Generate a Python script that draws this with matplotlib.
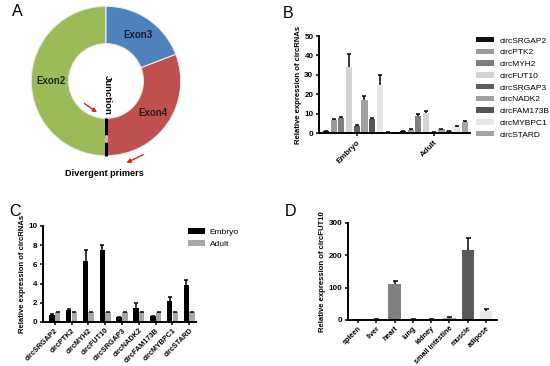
import matplotlib
matplotlib.use("Agg")
import matplotlib.pyplot as plt
import numpy as np

plt.rcParams['font.family'] = ['Liberation Sans', 'DejaVu Sans']

W, H = 550, 366

# ---------------- data ----------------
exon_labels = ["Exon2", "Exon4", "Exon3"]
exon_sizes = [180, 111, 69]
exon_colors = ["#9bbb59", "#c0504d", "#4f81bd"]

circ_names = ["circSRGAP2", "circPTK2", "circMYH2", "circFUT10", "circSRGAP3",
              "circNADK2", "circFAM173B", "circMYBPC1", "circSTARD"]
b_groups = ["Embryo", "Adult"]
b_embryo = [1.0, 6.5, 7.5, 34.0, 3.5, 16.8, 7.2, 24.5, 0.3]
b_embryo_err = [0.2, 0.5, 0.5, 6.5, 0.4, 2.5, 0.5, 5.2, 0.1]
b_adult = [1.0, 1.8, 8.8, 10.2, 0.5, 2.0, 0.8, 3.0, 5.5]
b_adult_err = [0.2, 0.5, 1.0, 1.0, 0.2, 0.3, 0.2, 0.5, 0.6]
b_colors = ["#111111", "#9a9a9a", "#7e7e7e", "#d4d4d4", "#5e5e5e",
            "#a0a0a0", "#555555", "#e6e6e6", "#a5a5a5"]

c_embryo = [0.75, 1.2, 6.35, 7.45, 0.48, 1.45, 0.58, 2.2, 3.9]
c_embryo_err = [0.08, 0.15, 1.2, 0.6, 0.05, 0.5, 0.05, 0.4, 0.5]
c_adult = [1.0] * 9
c_adult_err = [0.08] * 9

tissues = ["spleen", "liver", "heart", "lung", "kidney", "small intestine", "muscle", "adipose"]
d_vals = [1.0, 1.5, 110, 1.5, 1.5, 6.0, 218, 28]
d_err = [0.5, 0.5, 12, 0.5, 0.5, 2.0, 37, 7]
d_colors = ["#111111", "#9a9a9a", "#808080", "#d4d4d4", "#5e5e5e", "#a0a0a0", "#5a5a5a", "#e8e8e8"]

fig = plt.figure(figsize=(W / 100, H / 100), dpi=100)
fig.patch.set_facecolor("white")


def ax_px(left, top, right, bottom):
    return fig.add_axes([left / W, 1 - bottom / H, (right - left) / W, (bottom - top) / H])


def fpx(x, y):
    return (x / W, 1 - y / H)


def style(ax, fs=5.8, xfs=None):
    for s in ["top", "right"]:
        ax.spines[s].set_visible(False)
    for s in ["left", "bottom"]:
        ax.spines[s].set_linewidth(1.4)
    ax.tick_params(axis="both", length=2.5, width=1.1, labelsize=fs, pad=1.5)
    if xfs is not None:
        ax.tick_params(axis="x", labelsize=xfs, pad=1.0)
    for lab in ax.get_yticklabels() + ax.get_xticklabels():
        lab.set_fontweight("bold")


def errbars(ax, x, y, e, cap=1.8):
    eb = ax.errorbar(x, y, yerr=[np.zeros(len(e)), e], fmt="none", ecolor="black",
                     elinewidth=1.1, capsize=cap, capthick=1.1)
    eb[1][0].set_visible(False)


# ---------------- panel A ----------------
axA = ax_px(26, 1, 186, 161)
axA.pie(exon_sizes, colors=exon_colors, startangle=90, counterclock=True,
        radius=1.0, wedgeprops=dict(width=0.5, edgecolor="#ececec", linewidth=0.8))
axA.set_xlim(-1.07, 1.07)
axA.set_ylim(-1.07, 1.07)
axA.set_aspect("equal")
axA.axis("off")
axA.plot([0, 0], [-0.49, -0.72], color="black", lw=2.2, solid_capstyle="butt")
axA.plot([0, 0], [-0.81, -1.0], color="black", lw=2.2, solid_capstyle="butt")
axA.plot([0, 0], [-0.72, -0.81], color="#e8b0a0", lw=2.2, solid_capstyle="butt")
axA.text(0.43, 0.61, "Exon3", ha="center", va="center", fontsize=7, fontweight="bold", color="#1a1a2a")
axA.text(-0.73, 0.0, "Exon2", ha="center", va="center", fontsize=7, fontweight="bold", color="#1a2a1a")
axA.text(0.63, -0.43, "Exon4", ha="center", va="center", fontsize=7, fontweight="bold", color="#2a1a1a")
axA.text(0.02, -0.19, "Junction", ha="center", va="center", rotation=270, fontsize=6.8, fontweight="bold")
axA.annotate("", xy=(-0.09, -0.44), xytext=(-0.32, -0.28), annotation_clip=False,
             arrowprops=dict(arrowstyle="-|>", color="#e02020", lw=1.0, mutation_scale=6))
axA.annotate("", xy=(0.24, -1.11), xytext=(0.53, -0.97), annotation_clip=False,
             arrowprops=dict(arrowstyle="-|>", color="#e02020", lw=1.0, mutation_scale=6))
fig.text(*fpx(104, 173), "Divergent primers", ha="center", va="center", fontsize=6.6, fontweight="bold")
fig.text(*fpx(17, 12), "A", ha="center", va="center", fontsize=11.5)

# ---------------- panel B ----------------
axB = ax_px(319, 36, 470, 133)
gx = np.arange(len(b_groups))
slot = 0.1
for i, name in enumerate(circ_names):
    xs = gx + (i - 4) * slot
    vals = [b_embryo[i], b_adult[i]]
    errs = [b_embryo_err[i], b_adult_err[i]]
    axB.bar(xs, vals, width=0.08, color=b_colors[i], label=name)
    errbars(axB, xs, vals, errs, cap=1.2)
axB.set_ylim(0, 50)
axB.set_yticks([0, 10, 20, 30, 40, 50])
axB.set_xlim(-0.49, 1.47)
axB.set_xticks(gx)
axB.set_xticklabels(b_groups, rotation=45, ha="right", rotation_mode="anchor")
axB.set_ylabel("Relative expression of circRNAs", fontsize=5.6, fontweight="bold", labelpad=2)
style(axB)
axB.legend(loc="upper left", bbox_to_anchor=(476 / W, 1 - 37 / H), bbox_transform=fig.transFigure,
           frameon=False, fontsize=6.0, handlelength=2.2, handleheight=0.6, labelspacing=0.5,
           handletextpad=0.6, borderaxespad=0, borderpad=0)
fig.text(*fpx(288, 13), "B", ha="center", va="center", fontsize=11.5)

# ---------------- panel C ----------------
axC = ax_px(43, 226, 196, 322)
cx = np.arange(len(circ_names))
axC.bar(cx - 0.17, c_embryo, width=0.33, color="black", label="Embryo")
axC.bar(cx + 0.17, c_adult, width=0.33, color="#a8a8a8", label="Adult")
errbars(axC, cx - 0.17, c_embryo, c_embryo_err, cap=1.3)
errbars(axC, cx + 0.17, c_adult, c_adult_err, cap=1.3)
axC.set_ylim(0, 10)
axC.set_yticks([0, 2, 4, 6, 8, 10])
axC.set_xlim(-0.7, 8.4)
axC.set_xticks(cx)
axC.set_xticklabels(circ_names, rotation=45, ha="right", rotation_mode="anchor")
axC.set_ylabel("Relative expression of circRNAs", fontsize=5.6, fontweight="bold", labelpad=2)
style(axC, xfs=5.2)
axC.legend(loc="upper left", bbox_to_anchor=(188 / W, 1 - 228 / H), bbox_transform=fig.transFigure,
           frameon=False, fontsize=6.0, handlelength=2.0, handleheight=0.7, labelspacing=0.5,
           handletextpad=0.6, borderaxespad=0, borderpad=0)
fig.text(*fpx(15, 212), "C", ha="center", va="center", fontsize=11.5)

# ---------------- panel D ----------------
axD = ax_px(348, 223, 497, 320)
dx = np.arange(len(tissues))
axD.bar(dx, d_vals, width=0.68, color=d_colors)
errbars(axD, dx, d_vals, d_err, cap=1.8)
axD.set_ylim(0, 300)
axD.set_yticks([0, 100, 200, 300])
axD.set_xlim(-0.55, 7.6)
axD.set_xticks(dx)
axD.set_xticklabels(tissues, rotation=45, ha="right", rotation_mode="anchor")
axD.set_ylabel("Relative expression of circFUT10", fontsize=5.6, fontweight="bold", labelpad=2)
style(axD, xfs=5.2)
fig.text(*fpx(291, 212), "D", ha="center", va="center", fontsize=11.5)

fig.savefig("out.png", dpi=100, facecolor="white")
